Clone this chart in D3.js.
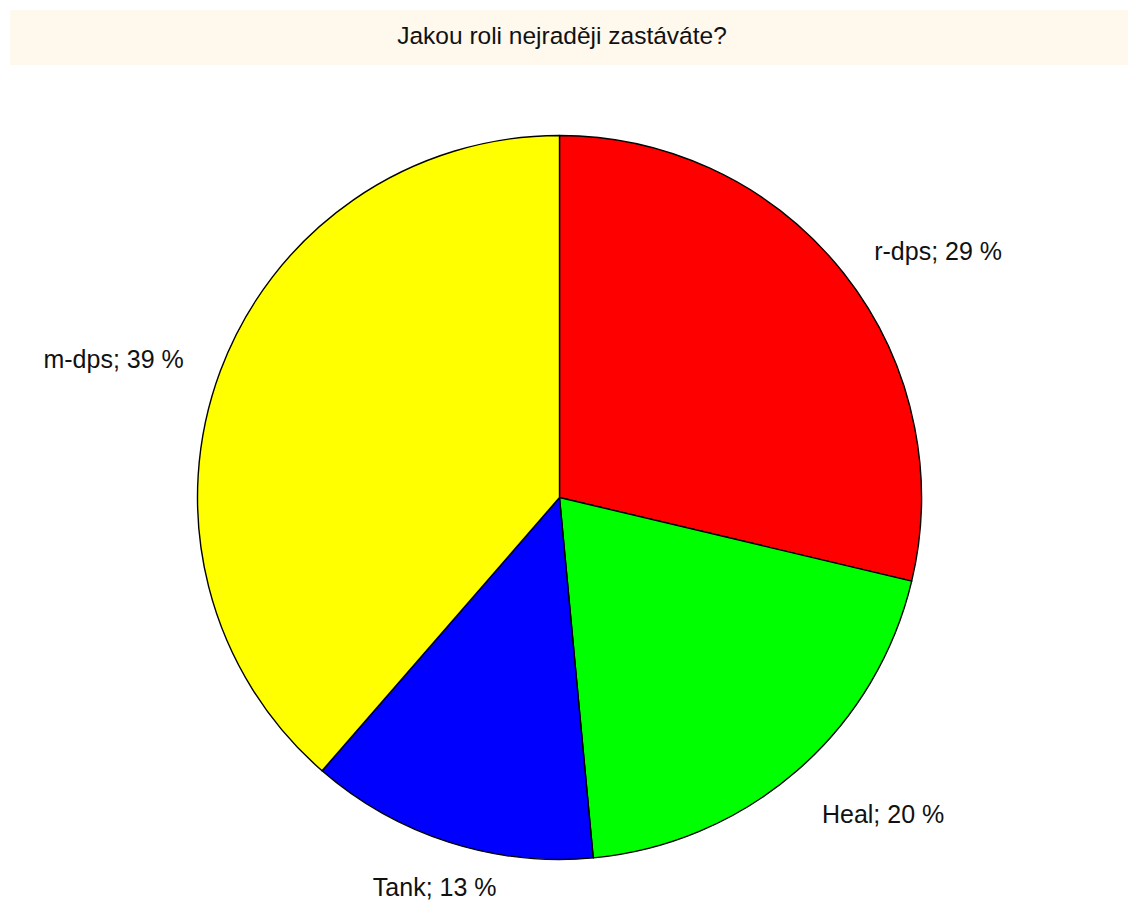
<!DOCTYPE html>
<html>
<head>
<meta charset="utf-8">
<script src="https://cdn.jsdelivr.net/npm/d3@7"></script>
<style>
  body { margin: 0; background: #fff; }
  text { font-family: "Liberation Sans", Arial, sans-serif; fill: #111; }
</style>
</head>
<body>
<div id="chart"></div>
<script>
// data
const roles   = ["r-dps", "Heal", "Tank", "m-dps"];
const percent = [29, 20, 13, 39];
const colors  = ["#ff0000", "#00ff00", "#0000ff", "#ffff00"];
const title   = "Jakou roli nejraději zastáváte?";

const width = 1138, height = 904;
const cx = 559.5, cy = 497.5, radius = 362;

const svg = d3.select("#chart")
  .append("svg")
  .attr("width", width)
  .attr("height", height);

// title band
svg.append("rect")
  .attr("x", 10).attr("y", 10)
  .attr("width", 1118).attr("height", 55)
  .attr("fill", "#fff8ed");

svg.append("text")
  .attr("x", 562).attr("y", 44)
  .attr("text-anchor", "middle")
  .style("font-size", "24.5px")
  .text(title);

const g = svg.append("g")
  .attr("transform", "translate(" + cx + "," + cy + ")");

const color = d3.scaleOrdinal(roles, colors);

const pie = d3.pie().sort(null).value(function(d) { return d.value; });
const arc = d3.arc().innerRadius(0).outerRadius(radius);

const data = roles.map(function(r, i) { return { role: r, value: percent[i] }; });
const arcs = pie(data);

g.selectAll("path")
  .data(arcs)
  .enter()
  .append("path")
  .attr("d", arc)
  .attr("fill", function(d) { return color(d.data.role); })
  .attr("stroke", "#000")
  .attr("stroke-width", 1.4)
  .attr("stroke-linejoin", "round");

// labels sit just outside the rim, small nudges where the original moved them
const labelTurn = { Tank: -0.15, Heal: 0.021 };
const labelPush = { Heal: 1.133, Tank: 1.085 };

g.selectAll("text.lab")
  .data(arcs)
  .enter()
  .append("text")
  .attr("class", "lab")
  .each(function(d) {
    const a = (d.startAngle + d.endAngle) / 2 + (labelTurn[d.data.role] || 0);
    const k = (labelPush[d.data.role] || 1.108) * radius;
    const x = Math.sin(a) * k, y = -Math.cos(a) * k;
    d3.select(this)
      .attr("x", x).attr("y", y)
      .attr("dy", "0.43em")
      .attr("text-anchor", x < 0 ? "end" : "start");
  })
  .style("font-size", "25px")
  .text(function(d) { return d.data.role + "; " + d.data.value + " %"; });
</script>
</body>
</html>
